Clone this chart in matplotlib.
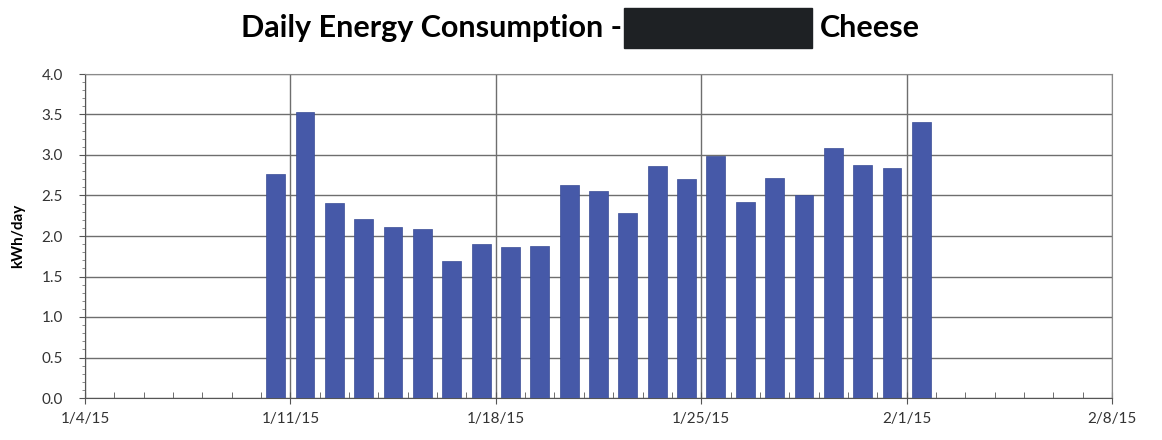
"""
Daily energy consumption bar chart
"""

import datetime as dt
import matplotlib
matplotlib.use('Agg')
import matplotlib.pyplot as plt
import matplotlib.dates as mdates
from matplotlib.patches import Rectangle
from matplotlib.ticker import MultipleLocator

first_day = dt.date(2015, 1, 10)
kwh = [2.77, 3.53, 2.41, 2.21, 2.11, 2.09, 1.69, 1.90, 1.86, 1.88, 2.63, 2.56,
       2.29, 2.86, 2.70, 2.99, 2.42, 2.72, 2.51, 3.09, 2.88, 2.84, 3.41]
days = [first_day + dt.timedelta(days=i) for i in range(len(kwh))]
x_start = dt.date(2015, 1, 4)
x_end = dt.date(2015, 2, 8)

fig = plt.figure(figsize=(11.62, 4.4), dpi=100)
ax = fig.add_axes([85 / 1162, 1 - 398 / 440, (1112 - 85) / 1162, (398 - 74) / 440])

# bars sit in the middle of each day, like excel's date axis
centers = [dt.datetime.combine(d, dt.time(12)) for d in days]
ax.bar(centers, kwh, width=0.64, color='#4659a8', edgecolor='#3a4d96',
       linewidth=0.5, zorder=3)

ax.set_xlim(dt.datetime.combine(x_start, dt.time(0)), dt.datetime.combine(x_end, dt.time(0)))
ax.set_ylim(0, 4.0)

week_ticks = [x_start + dt.timedelta(days=7 * i) for i in range(6)]
ax.set_xticks([dt.datetime.combine(d, dt.time(0)) for d in week_ticks])
ax.set_xticklabels([f"{d.month}/{d.day}/{d.strftime('%y')}" for d in week_ticks])
ax.xaxis.set_minor_locator(mdates.DayLocator())
ax.yaxis.set_major_locator(MultipleLocator(0.5))
ax.yaxis.set_minor_locator(MultipleLocator(0.1))
ax.yaxis.set_major_formatter(matplotlib.ticker.FormatStrFormatter('%.1f'))

ax.grid(True, which='major', color='#6e6e6e', linewidth=1.0, zorder=0)
ax.set_axisbelow(True)
for side in ['top', 'right']:
    ax.spines[side].set_color('#8a8a8a')
for side in ['left', 'bottom']:
    ax.spines[side].set_color('#555555')

ax.tick_params(axis='x', which='major', direction='inout', length=8, color='#555555',
               labelsize=11, labelcolor='#333333', pad=6)
ax.tick_params(axis='x', which='minor', direction='in', length=4, color='#555555')
ax.tick_params(axis='y', which='major', direction='out', length=4, color='#555555',
               labelsize=11, labelcolor='#333333', pad=12)
ax.tick_params(axis='y', which='minor', direction='out', length=2, color='#777777')
for lbl in ax.get_xticklabels() + ax.get_yticklabels():
    lbl.set_family('Lato')
ax.set_ylabel('kWh/day', fontsize=11, fontweight='bold', family='Lato', labelpad=12)

# title with the redacted name box
fig.text(622 / 1162, 1 - 28 / 440, 'Daily Energy Consumption -', ha='right', va='center',
         fontsize=22, fontweight='bold', family='Lato')
fig.patches.append(Rectangle((624 / 1162, 1 - 48 / 440), (812 - 624) / 1162, 40 / 440,
                             transform=fig.transFigure, color='#1e2124'))
fig.text(820 / 1162, 1 - 28 / 440, 'Cheese', ha='left', va='center',
         fontsize=22, fontweight='bold', family='Lato')

plt.savefig('out.png', dpi=100)
